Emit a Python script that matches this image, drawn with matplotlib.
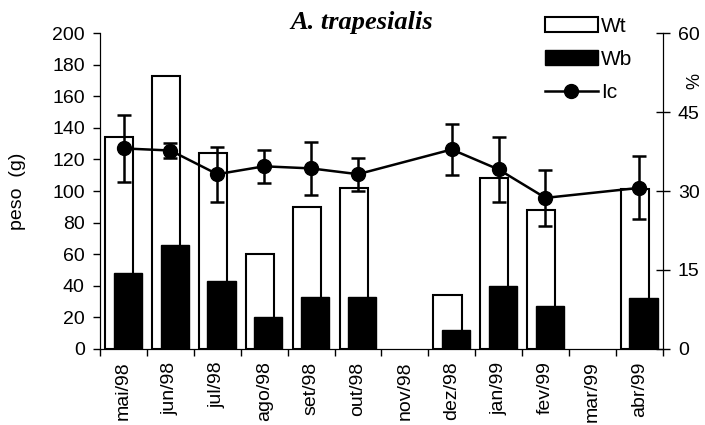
import numpy as np
import matplotlib.pyplot as plt
from matplotlib.patches import Patch
from matplotlib.lines import Line2D

plt.rcParams['font.family'] = ['Liberation Sans', 'DejaVu Sans']

meses = ['mai/98', 'jun/98', 'jul/98', 'ago/98', 'set/98', 'out/98',
         'nov/98', 'dez/98', 'jan/99', 'fev/99', 'mar/99', 'abr/99']
nan = np.nan
wt = [134, 173, 124, 60, 90, 102, nan, 34, 108, 88, nan, 101]
wb = [48, 66, 43, 20, 33, 33, nan, 12, 40, 27, nan, 32]
ic = [38.1, 37.7, 33.2, 34.7, 34.3, 33.2, nan, 37.9, 34.1, 28.7, nan, 30.6]
ic_err = [6.4, 1.4, 5.2, 3.1, 5.1, 3.1, nan, 4.9, 6.2, 5.3, nan, 6.0]

x = np.arange(len(meses))
wt = np.array(wt)
wb = np.array(wb)
ic = np.array(ic)
ic_err = np.array(ic_err)

fig = plt.figure(figsize=(7.05, 4.25), dpi=100)
ax = fig.add_axes([0.142, 0.179, 0.798, 0.743])

ax.bar(x - 0.09, wt, width=0.6, color='white', edgecolor='black', linewidth=1.5)
ax.bar(x + 0.09, wb, width=0.6, color='black', edgecolor='black', linewidth=1.0)

ax.set_xlim(-0.5, len(meses) - 0.5)
ax.set_ylim(0, 200)
ax.set_yticks(range(0, 201, 20))
ax.set_xticks(np.arange(len(meses) + 1) - 0.5, minor=False)
ax.set_xticklabels([])
ax.set_xticks(x, minor=True)
ax.set_xticklabels(meses, minor=True, rotation=90, fontsize=14)
ax.tick_params(axis='x', which='minor', length=0, pad=9)
ax.tick_params(axis='x', which='major', direction='out', length=5, width=1)
ax.tick_params(axis='y', direction='out', length=5, width=1, labelsize=14, pad=6)
ax.spines['top'].set_visible(False)
ax.set_ylabel('peso  (g)', fontsize=14)
ax.yaxis.set_label_coords(-0.132, 0.5)

# índice (%) no eixo secundário
ax2 = ax.twinx()
ok = ~np.isnan(ic)
ax2.errorbar(x[ok], ic[ok], yerr=ic_err[ok], color='black', linewidth=1.8,
             marker='o', markersize=10, capsize=5, elinewidth=1.8, capthick=1.8)
ax2.set_ylim(0, 60)
ax2.set_yticks([0, 15, 30, 45, 60])
ax2.tick_params(axis='y', direction='inout', length=10, width=1, labelsize=14, pad=6)
ax2.spines['top'].set_visible(False)
fig.text(0.986, 0.81, '%', fontsize=13, rotation=90, ha='center', va='center')

fig.text(0.513, 0.946, 'A. trapesialis', fontsize=19, style='italic', weight='bold',
         family='Liberation Serif', ha='center', va='center')

handles = [Patch(facecolor='white', edgecolor='black', linewidth=1.5),
           Patch(facecolor='black', edgecolor='black'),
           Line2D([], [], color='black', marker='o', markersize=10, linewidth=1.8)]
fig.legend(handles, ['Wt', 'Wb', 'Ic'], loc='upper left', bbox_to_anchor=(0.752, 0.995),
           frameon=False, fontsize=15, handlelength=2.55, handleheight=0.75,
           handletextpad=0.15, labelspacing=0.68, borderaxespad=0.3)

fig.savefig('out.png', dpi=100, facecolor='white')
